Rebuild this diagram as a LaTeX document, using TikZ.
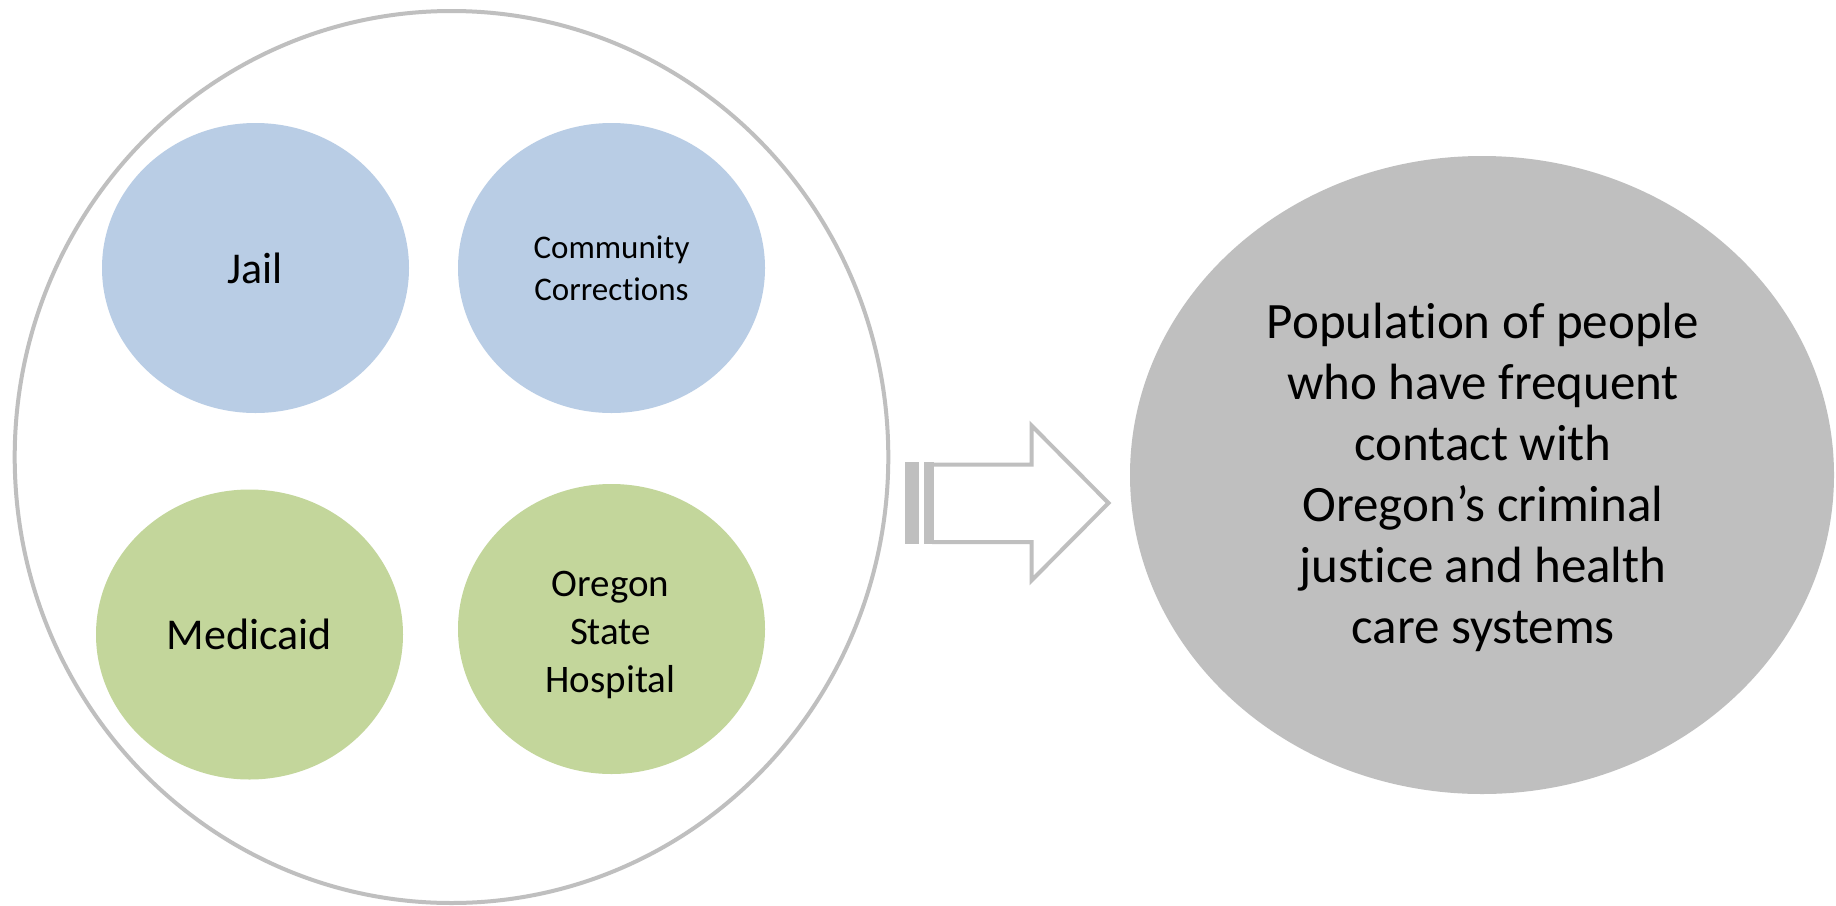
\documentclass[tikz,border=0pt]{standalone}
\usepackage{fontspec}
\setmainfont{Carlito}[Ligatures={NoCommon,NoContextual}, Contextuals={NoAlternate}]
\usetikzlibrary{shapes.geometric}
\definecolor{bluefill}{HTML}{B9CDE5}
\definecolor{greenfill}{HTML}{C3D69B}
\definecolor{grayfill}{HTML}{BFBFBF}
\definecolor{edgegray}{HTML}{BFBFBF}
\begin{document}
\begin{tikzpicture}[x=1pt,y=-1pt,
  blob/.style={ellipse, inner sep=0pt, outer sep=0pt, minimum width=307pt, minimum height=290pt},
  lab/.style={align=center, text=black, inner sep=0pt},
  arrowline/.style={draw=edgegray, line width=4pt, line join=miter},
]
\useasboundingbox[fill=white] (0,0) rectangle (1836,905);
% outer circle
\node[ellipse, draw=edgegray, line width=4pt, minimum width=873.6pt, minimum height=892pt, inner sep=0pt] (outer) at (451.5,457) {};
% four inner ellipses
\node[blob, fill=bluefill] (jail) at (255.5,268) {};
\node[lab, font=\fontsize{44}{53}\selectfont] (jailt) at (255,268) {Jail};
\node[blob, fill=bluefill] (cc) at (611.5,268) {};
\node[lab, font=\fontsize{33}{42}\selectfont] (cct) at (611.5,268) {Community\\Correct\kern0pt ions};
\node[blob, fill=greenfill] (med) at (249.5,634.5) {};
\node[lab, font=\fontsize{44}{53}\selectfont] (medt) at (249.5,634.5) {Medicaid};
\node[blob, fill=greenfill] (osh) at (611.5,629) {};
\node[lab, font=\fontsize{39}{48}\selectfont] (osht) at (610.5,634.5) {Oregon\\State\\Hospital};
% striped block arrow
\coordinate (s1a) at (905,462);
\coordinate (s1b) at (919,544);
\coordinate (s2a) at (924,462);
\coordinate (s2b) at (934,544);
\fill[grayfill] (s1a) rectangle (s1b);
\fill[grayfill] (s2a) rectangle (s2b);
\draw[arrowline] (932,464.5) -- (1031.5,464.5) -- (1031.5,425.5) -- (1108.5,503) -- (1031.5,580.5) -- (1031.5,542) -- (932,542);
% result ellipse
\node[ellipse, fill=grayfill, inner sep=0pt, minimum width=704pt, minimum height=638pt] (pop) at (1482,475) {};
\node[lab, font=\fontsize{51}{61}\selectfont] (popt) at (1483,477) {Populat\kern0pt ion of people\\who have frequent\\contact with\\Oregon’s criminal\\justice and health\\care systems};
\end{tikzpicture}
\end{document}
